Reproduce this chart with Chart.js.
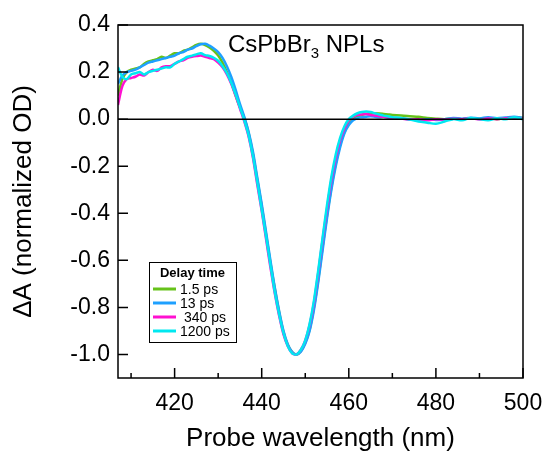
<!DOCTYPE html>
<html>
<head>
<meta charset="utf-8">
<script src="https://cdn.jsdelivr.net/npm/chart.js@4.4.1/dist/chart.umd.min.js"></script>
<style>
  html, body { margin: 0; padding: 0; background: #fff; }
  #wrap { width: 547px; height: 455px; }
</style>
</head>
<body>
<div id="wrap"><canvas id="tacanvas"></canvas></div>
<script>
// probe wavelengths (nm)
var wavelength = [407,408,409,410,411,412,413,414,415,416,417,418,419,420,421,422,423,424,425,426,427,428,429,430,
  431,432,433,434,435,436,437,438,439,440,441,442,443,444,445,446,447,448,449,450,451,452,453,454,455,456,457,458,459,460,
  461,462,463,464,465,466,467,468,469,470,472,474,476,478,480,482,484,486,488,490,492,494,496,498,500];

// normalized dA for each delay time
var ps1_5 = [0.10,0.17,0.20,0.21,0.215,0.22,0.235,0.245,0.25,0.255,0.265,0.26,0.27,0.28,0.28,0.29,0.295,0.305,0.315,0.32,0.315,0.305,0.29,0.27,
  0.24,0.20,0.155,0.10,0.05,0.005,-0.06,-0.15,-0.26,-0.37,-0.49,-0.61,-0.72,-0.82,-0.905,-0.96,-0.99,-1.0,-0.985,-0.95,-0.895,-0.80,-0.68,-0.54,-0.41,-0.29,-0.19,-0.11,-0.055,-0.02,
  0.0,0.01,0.018,0.022,0.025,0.025,0.024,0.022,0.02,0.018,0.015,0.012,0.01,0.005,0.002,0.0,0.003,0.0,0.004,0.002,0.005,0.0,0.004,0.006,0.005];
var ps13 = [0.15,0.185,0.20,0.205,0.21,0.22,0.23,0.24,0.245,0.25,0.255,0.26,0.265,0.27,0.28,0.285,0.295,0.30,0.31,0.318,0.32,0.312,0.30,0.285,
  0.26,0.225,0.18,0.125,0.065,0.01,-0.055,-0.14,-0.25,-0.36,-0.48,-0.60,-0.715,-0.815,-0.90,-0.958,-0.99,-1.0,-0.988,-0.955,-0.90,-0.81,-0.69,-0.555,-0.42,-0.30,-0.20,-0.12,-0.06,-0.025,
  -0.005,0.005,0.008,0.01,0.012,0.01,0.008,0.01,0.006,0.004,0.002,0.0,-0.005,0.0,-0.004,0.0,0.005,0.002,0.006,0.003,0.008,0.004,0.007,0.01,0.005];
var ps340 = [0.06,0.14,0.17,0.175,0.18,0.19,0.185,0.20,0.21,0.205,0.22,0.225,0.225,0.235,0.245,0.25,0.26,0.265,0.268,0.27,0.265,0.26,0.255,0.24,
  0.22,0.19,0.15,0.10,0.045,-0.01,-0.075,-0.165,-0.28,-0.39,-0.51,-0.63,-0.74,-0.835,-0.915,-0.965,-0.995,-1.0,-0.98,-0.94,-0.875,-0.78,-0.65,-0.51,-0.38,-0.26,-0.165,-0.09,-0.04,-0.005,
  0.01,0.018,0.02,0.022,0.018,0.015,0.012,0.01,0.008,0.006,0.003,-0.003,0.0,-0.005,0.0,-0.003,0.002,0.0,0.004,-0.002,0.003,0.0,0.004,0.006,0.003];
var ps1200 = [0.22,0.18,0.17,0.19,0.195,0.20,0.19,0.20,0.205,0.21,0.215,0.22,0.22,0.235,0.245,0.255,0.265,0.27,0.275,0.28,0.272,0.268,0.26,0.248,
  0.225,0.195,0.155,0.105,0.05,-0.005,-0.07,-0.16,-0.27,-0.385,-0.50,-0.62,-0.735,-0.83,-0.91,-0.965,-0.995,-1.0,-0.98,-0.94,-0.87,-0.77,-0.64,-0.50,-0.365,-0.245,-0.15,-0.08,-0.03,0.0,
  0.015,0.025,0.03,0.032,0.03,0.025,0.02,0.015,0.012,0.008,0.005,-0.002,-0.01,-0.015,-0.02,-0.01,0.0,-0.005,0.005,0.0,-0.005,0.004,0.0,0.008,0.0];

var delayLabels = ['1.5 ps', '13 ps', ' 340 ps', '1200 ps'];
var xTicks = [420, 440, 460, 480, 500];
var xMinorTicks = [410, 430, 450, 470, 490];
var yTicks = [-1.0, -0.8, -0.6, -0.4, -0.2, 0.0, 0.2, 0.4];

var colors = ['#66c21a', '#1ea0ff', '#ff10d0', '#00e8f0'];
var series = [ps1_5, ps13, ps340, ps1200];

function pts(ys) {
  var out = [];
  for (var i = 0; i < wavelength.length; i++) out.push({x: wavelength[i], y: ys[i]});
  return out;
}

var datasets = [];
for (var k = 0; k < series.length; k++) {
  datasets.push({
    label: delayLabels[k],
    data: pts(series[k]),
    borderColor: colors[k],
    backgroundColor: colors[k],
    borderWidth: 2.5,
    pointRadius: 0,
    tension: 0.3,
    order: 4 - k
  });
}

var FONT = "'Liberation Sans', Arial, sans-serif";

// frame, zero line, inward ticks, in-plot title and legend box
var decorations = {
  id: 'decorations',
  afterDatasetsDraw: function(chart) {
    var c = chart.ctx, a = chart.chartArea;
    var xs = chart.scales.x, ys = chart.scales.y;
    c.save();
    c.strokeStyle = '#000';
    c.lineWidth = 1.5;
    // zero line
    var y0 = ys.getPixelForValue(0);
    c.beginPath(); c.moveTo(a.left, y0); c.lineTo(a.right, y0); c.stroke();
    // frame
    c.strokeRect(a.left, a.top, a.right - a.left, a.bottom - a.top);
    // ticks
    c.beginPath();
    xTicks.forEach(function(v) {
      var px = xs.getPixelForValue(v);
      c.moveTo(px, a.bottom); c.lineTo(px, a.bottom - 10);
    });
    xMinorTicks.forEach(function(v) {
      var px = xs.getPixelForValue(v);
      c.moveTo(px, a.bottom); c.lineTo(px, a.bottom - 5);
    });
    yTicks.forEach(function(v) {
      var py = ys.getPixelForValue(v);
      c.moveTo(a.left, py); c.lineTo(a.left + 10, py);
    });
    c.stroke();

    // sample name
    c.fillStyle = '#000';
    c.textBaseline = 'alphabetic';
    c.textAlign = 'left';
    c.font = '24px ' + FONT;
    var tx = 228, ty = 52;
    c.fillText('CsPbBr', tx, ty);
    tx += c.measureText('CsPbBr').width;
    c.font = '15px ' + FONT;
    c.fillText('3', tx, ty + 6);
    tx += c.measureText('3').width;
    c.font = '24px ' + FONT;
    c.fillText(' NPLs', tx, ty);

    // legend
    var lx = 149, ly = 262, lw = 87, lh = 80;
    c.fillStyle = '#fff';
    c.fillRect(lx, ly, lw, lh);
    c.lineWidth = 1;
    c.strokeStyle = '#000';
    c.strokeRect(lx + 0.5, ly + 0.5, lw, lh);
    c.fillStyle = '#000';
    c.font = 'bold 13px ' + FONT;
    c.textAlign = 'center';
    c.fillText('Delay time', lx + lw / 2, ly + 15);
    c.textAlign = 'left';
    c.font = '14px ' + FONT;
    c.lineWidth = 3;
    for (var i = 0; i < delayLabels.length; i++) {
      var ry = ly + 27 + i * 14;
      c.strokeStyle = colors[i];
      c.beginPath(); c.moveTo(lx + 4, ry); c.lineTo(lx + 27, ry); c.stroke();
      c.fillText(delayLabels[i], lx + 31, ry + 5);
    }
    c.restore();
  }
};

new Chart(document.getElementById('tacanvas'), {
  type: 'line',
  data: { datasets: datasets },
  plugins: [decorations],
  options: {
    responsive: true,
    maintainAspectRatio: false,
    animation: false,
    layout: { padding: { top: 25, right: 24, left: 0, bottom: 0 } },
    plugins: { legend: { display: false }, tooltip: { enabled: false } },
    scales: {
      x: {
        type: 'linear',
        min: 407,
        max: 500,
        afterBuildTicks: function(s) { s.ticks = xTicks.map(function(v) { return {value: v}; }); },
        afterFit: function(s) { s.height = 77; s.paddingLeft = 0; s.paddingRight = 0; },
        grid: { display: false, drawTicks: false },
        border: { display: false },
        ticks: { color: '#000', padding: 12, font: { size: 23, family: FONT } },
        title: { display: true, text: 'Probe wavelength (nm)', color: '#000',
                 font: { size: 26, family: FONT }, padding: { top: 0, bottom: 1 } }
      },
      y: {
        type: 'linear',
        min: -1.1,
        max: 0.4,
        afterBuildTicks: function(s) { s.ticks = yTicks.map(function(v) { return {value: v}; }); },
        afterFit: function(s) { s.width = 118; s.paddingTop = 0; s.paddingBottom = 0; },
        grid: { display: false, drawTicks: false },
        border: { display: false },
        ticks: { color: '#000', padding: 8, font: { size: 23, family: FONT },
                 callback: function(v) { return v.toFixed(1); } },
        title: { display: true, text: '\u0394A (normalized OD)', color: '#000',
                 font: { size: 26, family: FONT }, padding: { top: 8, bottom: 0 } }
      }
    }
  }
});
</script>
</body>
</html>
